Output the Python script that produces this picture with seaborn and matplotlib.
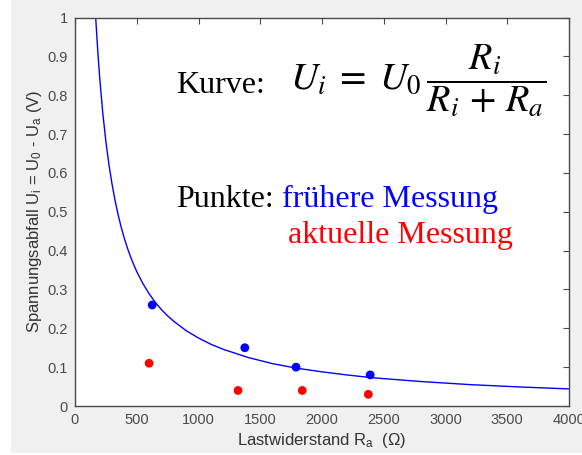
import matplotlib
matplotlib.use('Agg')
import matplotlib.pyplot as plt
import seaborn as sns
import pandas as pd
from matplotlib.patches import Rectangle

# curve (load resistance in Ohm, voltage drop in V)
curve_ra = [160, 170, 185, 200, 225, 250, 275, 300, 325, 350, 375, 400, 425, 450, 475,
            500, 550, 600, 650, 700, 750, 800, 900, 1000, 1100, 1200, 1400, 1600, 1800,
            2000, 2200, 2400, 2800, 3200, 3600, 4000]
curve_ui = [1.045, 0.987, 0.910, 0.845, 0.754, 0.681, 0.621, 0.571, 0.528, 0.491, 0.459,
            0.431, 0.406, 0.384, 0.364, 0.346, 0.315, 0.289, 0.267, 0.248, 0.232, 0.218,
            0.194, 0.175, 0.159, 0.146, 0.125, 0.109, 0.097, 0.088, 0.080, 0.073, 0.063,
            0.055, 0.049, 0.044]

# earlier measurement (blue)
old_ra = [625, 1375, 1790, 2390]
old_ui = [0.26, 0.15, 0.10, 0.08]

# current measurement (red)
new_ra = [600, 1320, 1840, 2375]
new_ui = [0.11, 0.04, 0.04, 0.03]

x_ticks = [0, 500, 1000, 1500, 2000, 2500, 3000, 3500, 4000]
y_ticks = [0, 0.1, 0.2, 0.3, 0.4, 0.5, 0.6, 0.7, 0.8, 0.9, 1]
y_tick_labels = ['0', '0.1', '0.2', '0.3', '0.4', '0.5', '0.6', '0.7', '0.8', '0.9', '1']

sns.set_style('white')
plt.rcParams['font.family'] = ['Liberation Sans', 'DejaVu Sans']
plt.rcParams['mathtext.fontset'] = 'custom'
plt.rcParams['mathtext.rm'] = 'Liberation Sans'
plt.rcParams['mathtext.it'] = 'Liberation Sans:italic'

grey = '#4a4a4a'

fig = plt.figure(figsize=(5.82, 4.55), dpi=100, facecolor='white')
fig.patches.append(Rectangle((11 / 582, 2 / 455), 1, 1, transform=fig.transFigure,
                             facecolor='#f0f0f0', edgecolor='none', zorder=-10))
ax = fig.add_axes([75 / 582, 1 - 406 / 455, 494 / 582, 388.5 / 455])
ax.set_facecolor('white')

curve = pd.DataFrame({'ra': curve_ra, 'ui': curve_ui})
sns.lineplot(data=curve, x='ra', y='ui', color='#0000ff', linewidth=1.0, ax=ax)
sns.scatterplot(x=old_ra, y=old_ui, color='#0000ff', s=40, edgecolor='none', ax=ax, zorder=3)
sns.scatterplot(x=new_ra, y=new_ui, color='#ff0000', s=40, edgecolor='none', ax=ax, zorder=3)

ax.set_xlim(0, 4000)
ax.set_ylim(0, 1)
ax.set_xticks(x_ticks)
ax.set_yticks(y_ticks)
ax.set_yticklabels(y_tick_labels)
ax.tick_params(direction='in', length=4, width=0.8, colors=grey, labelsize=10.5,
               top=True, right=True, pad=5)
for side in ax.spines.values():
    side.set_color(grey)
    side.set_linewidth(1.0)

ax.set_xlabel(r'Lastwiderstand R$_\mathregular{a}$  ($\Omega$)', fontsize=12, color='#333333', labelpad=3)
ax.set_ylabel(r'Spannungsabfall U$_\mathregular{i}$ = U$_\mathregular{0}$ - U$_\mathregular{a}$ (V)',
              fontsize=12, color='#333333', labelpad=3)

serif = ['Liberation Serif', 'DejaVu Serif']
ax.text(0.205, 0.806, 'Kurve:', transform=ax.transAxes, fontsize=23, family=serif, color='black')
ax.text(0.436, 0.838, r'$U_i \;=\; U_0\,\dfrac{R_i}{R_i \,+\, R_a}$', transform=ax.transAxes,
        fontsize=27.5, color='black', math_fontfamily='stix', va='center')
ax.text(0.205, 0.512, 'Punkte:', transform=ax.transAxes, fontsize=23, family=serif, color='black')
ax.text(0.419, 0.512, 'frühere Messung', transform=ax.transAxes, fontsize=23, family=serif, color='#0000ff')
ax.text(0.431, 0.42, 'aktuelle Messung', transform=ax.transAxes, fontsize=23, family=serif, color='#ff0000')

fig.savefig('out.png', dpi=100, facecolor=fig.get_facecolor())
